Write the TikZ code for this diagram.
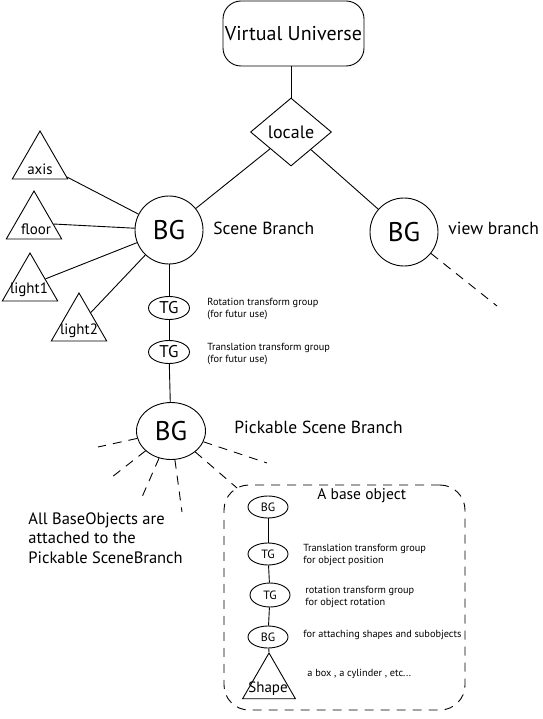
\documentclass[tikz,border=0pt]{standalone}
\usepackage{fontspec}
\setmainfont{PT Sans}
\usetikzlibrary{shapes.geometric}
\begin{document}
\begin{tikzpicture}[x=1pt,y=-1pt,line width=0.9pt,
  bigbg/.style={draw,circle,minimum size=68pt,inner sep=0pt,font=\fontsize{27}{27}\selectfont},
  midtg/.style={draw,ellipse,minimum width=41pt,minimum height=23pt,inner sep=0pt,font=\fontsize{17}{17}\selectfont},
  smallnode/.style={draw,ellipse,minimum width=40pt,minimum height=22pt,inner sep=0pt,font=\fontsize{12}{12}\selectfont},
  tri/.style={draw,regular polygon,regular polygon sides=3,minimum size=64pt,inner sep=0pt},
  trilabel/.style={font=\fontsize{15}{15}\selectfont,inner sep=0pt},
  lbl/.style={anchor=west,inner sep=0pt,font=\fontsize{17.5}{17.5}\selectfont},
  note/.style={anchor=west,inner sep=0pt,align=left,font=\fontsize{10.3}{12.5}\selectfont},
  dashline/.style={dash pattern=on 9pt off 7pt}
]
\useasboundingbox (0,0) rectangle (542,719);

% top
\node[draw,rounded corners=18pt,minimum width=141pt,minimum height=65pt,inner sep=0pt,font=\fontsize{20}{20}\selectfont] (vu) at (293.5,33.5) {Virtual Universe};
\node[draw,diamond,minimum width=81pt,minimum height=68pt,inner sep=0pt,font=\fontsize{18}{18}\selectfont] (loc) at (291,132) {locale};
\draw (loc.north |- vu.south) -- (loc.north);

% scene and view branch
\node[bigbg] (sbg) at (169,230) {BG};
\node[bigbg] (vbg) at (404,232) {BG};
\draw (loc) -- (sbg);
\draw (loc) -- (vbg);
\node[lbl] (sbl) at (213,228) {Scene Branch};
\node[lbl] (vbl) at (448,228) {view branch};
\coordinate (vend) at (497,306);
\draw[dashline] (vbg) -- (vend);

% triangles
\node[tri] (axis) at (40,163) {};
\node[trilabel] (axist) at (40,169) {axis};
\node[tri] (floor) at (34,223) {};
\node[trilabel] (floort) at (36,229) {floor};
\node[tri] (light1) at (30,285) {};
\node[trilabel] (light1t) at (29,290) {light1};
\node[tri] (light2) at (79,325) {};
\node[trilabel] (light2t) at (79,331) {light2};
\draw (axis) -- (sbg);
\draw (floor) -- (sbg);
\draw (light1) -- (sbg);
\draw (light2) -- (sbg);

% transform groups
\node[midtg] (tg1) at (169,308) {TG};
\node[midtg] (tg2) at (169,352) {TG};
\node[note] (tg1t) at (207,309) {Rotation transform group\\(for futur use)};
\node[note] (tg2t) at (207,354) {Translation transform group\\(for futur use)};
\node[draw,ellipse,minimum width=69pt,minimum height=57pt,inner sep=0pt,font=\fontsize{27}{27}\selectfont] (pbg) at (171,431) {BG};
\node[lbl] (pbl) at (234,427) {Pickable Scene Branch};
\draw (sbg) -- (tg1);
\draw (tg1) -- (tg2);
\draw (tg2) -- (pbg);

% dashed fan
\coordinate (d1) at (98,447);
\coordinate (d2) at (112,477);
\coordinate (d3) at (142,497);
\coordinate (d4) at (182,512);
\coordinate (d5) at (237,488);
\coordinate (d6) at (267,463);
\foreach \d in {d1,d2,d3,d4,d5,d6} \draw[dashline] (pbg) -- (\d);

\node[anchor=west,inner sep=0pt,align=left,font=\fontsize{16.5}{19.5}\selectfont] (allt) at (28,538) {All BaseObjects are\\attached to the\\Pickable SceneBranch};

% base object box
\node[draw,dashline,rounded corners=25pt,minimum width=241pt,minimum height=225pt,inner sep=0pt] (box) at (344.5,597.5) {};
\node[anchor=west,inner sep=0pt,font=\fontsize{15.5}{15.5}\selectfont] (boxt) at (317,496) {A base object};
\node[smallnode] (obg1) at (268,507) {BG};
\node[smallnode] (otg1) at (268,554) {TG};
\node[smallnode,minimum height=24pt] (otg2) at (270,595) {TG};
\node[smallnode] (obg2) at (268,637) {BG};
\node[tri,minimum size=61pt] (shape) at (269,683.5) {};
\node[trilabel] (shapet) at (268,689) {Shape};
\draw (obg1) -- (otg1);
\draw (otg1) -- (otg2);
\draw (otg2) -- (obg2);
\draw (obg2) -- (shape.corner 1);
\node[note] (o1t) at (303,555) {Translation transform group\\for object position};
\node[note] (o2t) at (305,597) {rotation transform group\\for object rotation};
\node[note] (o3t) at (303,635) {for attaching shapes and subobjects};
\node[note] (o4t) at (307,674) {a box , a cylinder , etc...};
\end{tikzpicture}
\end{document}
